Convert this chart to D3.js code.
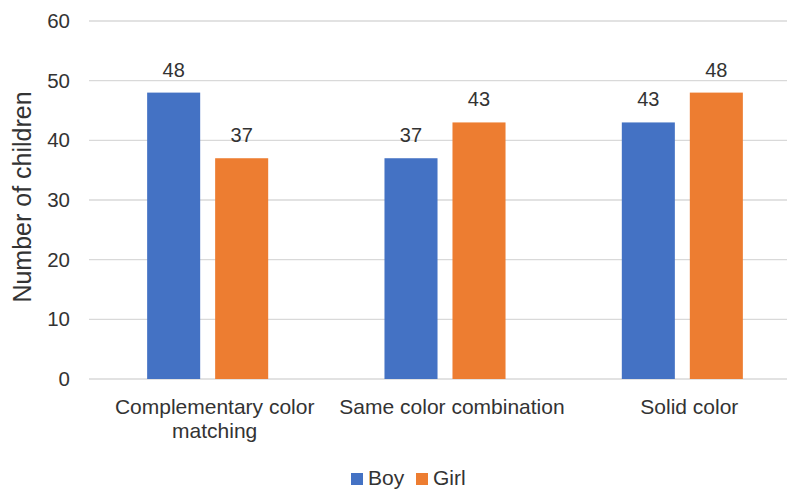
<!DOCTYPE html>
<html>
<head>
<meta charset="utf-8">
<script src="https://cdn.jsdelivr.net/npm/d3@7"></script>
<style>
  html, body { margin: 0; padding: 0; background: #fff; }
  svg { display: block; font-family: "Liberation Sans", Arial, sans-serif; }
</style>
</head>
<body>
<svg id="chart" width="787" height="489"></svg>
<script>
// Preferred outfit color style by gender
const categories = [["Complementary color", "matching"], ["Same color combination"], ["Solid color"]];
const seriesNames = ["Boy", "Girl"];
const boyValues = [48, 37, 43];
const girlValues = [37, 43, 48];
const seriesColors = ["#4472C4", "#ED7D31"];
const yTicks = [0, 10, 20, 30, 40, 50, 60];
const yTitle = "Number of children";

const rows = categories.map((c, i) => ({ key: c.join(" "), lines: c, values: [boyValues[i], girlValues[i]] }));

const svg = d3.select("#chart");
const textColor = "#333333";
const plot = { left: 89, right: 801, top: 21, bottom: 379 };

const x0 = d3.scaleBand().domain(rows.map(d => d.key)).range([plot.left, plot.right]).padding(0);
const x1 = d3.scaleBand().domain(seriesNames).range([0, x0.bandwidth()])
  .paddingInner(0.22).paddingOuter(0.855);
const y = d3.scaleLinear().domain([0, 60]).range([plot.bottom, plot.top]);

// Gridlines
svg.append("g").selectAll("line").data(yTicks).join("line")
  .attr("x1", plot.left).attr("x2", plot.right)
  .attr("y1", d => y(d)).attr("y2", d => y(d))
  .attr("stroke", "#d9d9d9").attr("stroke-width", 1.3);

// Y axis tick labels
const yAxis = d3.axisLeft(y).tickValues(yTicks).tickSize(0).tickPadding(0);
const yg = svg.append("g").attr("transform", `translate(${plot.left - 19},0)`).call(yAxis);
yg.select(".domain").remove();
yg.selectAll("text").attr("fill", textColor).style("font-size", "20.5px")
  .style("font-family", "Liberation Sans, Arial, sans-serif");

// Y axis title
svg.append("text")
  .attr("transform", `translate(31,197) rotate(-90)`)
  .attr("text-anchor", "middle").attr("fill", textColor)
  .style("font-size", "25px").text(yTitle);

// Bars
const groups = svg.append("g").selectAll("g").data(rows).join("g")
  .attr("transform", d => `translate(${x0(d.key)},0)`);

groups.selectAll("rect").data(d => d.values.map((v, i) => ({ s: seriesNames[i], v, c: seriesColors[i] })))
  .join("rect")
  .attr("x", d => x1(d.s)).attr("width", x1.bandwidth())
  .attr("y", d => y(d.v)).attr("height", d => y(0) - y(d.v))
  .attr("fill", d => d.c);

// Value labels
groups.selectAll("text.val").data(d => d.values.map((v, i) => ({ s: seriesNames[i], v })))
  .join("text").attr("class", "val")
  .attr("x", d => x1(d.s) + x1.bandwidth() / 2)
  .attr("y", d => y(d.v) - 16)
  .attr("text-anchor", "middle").attr("fill", textColor)
  .style("font-size", "20px").text(d => d.v);

// Category labels (sit slightly right of the group centre)
const labelX = x0.bandwidth() / 2 + 7;
groups.append("text")
  .attr("x", labelX).attr("y", 414)
  .attr("text-anchor", "middle").attr("fill", textColor)
  .style("font-size", "21px")
  .selectAll("tspan").data(d => d.lines).join("tspan")
  .attr("x", labelX).attr("dy", (d, i) => i === 0 ? 0 : 24)
  .text(d => d);

// Legend
const legendItems = [{ name: "Boy", x: 351 }, { name: "Girl", x: 416 }];
const lg = svg.append("g").selectAll("g").data(legendItems).join("g")
  .attr("transform", d => `translate(${d.x},473)`);
lg.append("rect").attr("width", 12).attr("height", 12)
  .attr("fill", (d, i) => seriesColors[i]);
lg.append("text").attr("x", 17).attr("y", 11.5)
  .attr("fill", textColor).style("font-size", "21px").text(d => d.name);
</script>
</body>
</html>
